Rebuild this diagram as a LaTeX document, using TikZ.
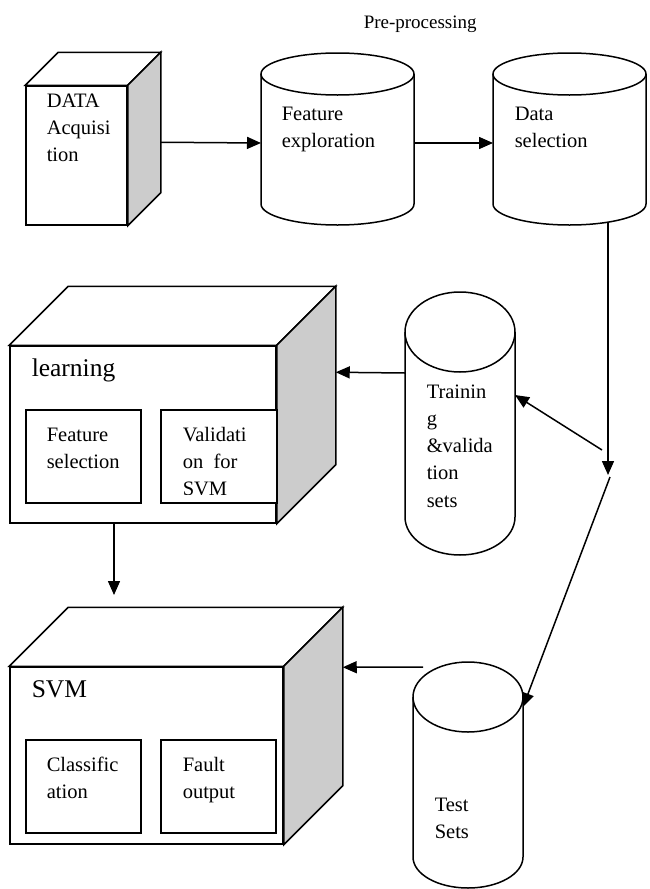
\documentclass[tikz,border=0pt]{standalone}
\usepackage{fontspec}
\setmainfont{Liberation Serif}
\usetikzlibrary{arrows.meta,calc}
\newcommand\mlines[1]{\begin{tabular}[t]{@{}l@{}}#1\end{tabular}}
\newcommand\drawcyl[6]{%
  \draw[fill=white] (#1-#2,-#3) -- (#1-#2,-#5)
    arc[start angle=180,end angle=360,x radius=#2,y radius=#6] -- (#1+#2,-#3);
  \draw[fill=white] (#1,-#3) ellipse [x radius=#2,y radius=#4];
}
\begin{document}
\begin{tikzpicture}[x=1pt,y=1pt,
  line width=1.5pt,
  face/.style={draw,fill=white,inner sep=0,line join=miter},
  sideface/.style={draw,fill=black!20,line join=miter},
  hidden/.style={inner sep=0,outer sep=0},
  lbl/.style={anchor=base west,inner sep=0,font=\fontsize{20.5}{27.3}\selectfont},
  biglbl/.style={anchor=base west,inner sep=0,font=\fontsize{25.5}{30}\selectfont},
  arr/.style={-{Triangle[length=14pt,width=12pt]}},
]
\useasboundingbox (0,0) rectangle (649,-889);

% ---------- DATA Acquisition cube ----------
\node[face,minimum width=101,minimum height=139] (da) at (76.5,-155.5) {};
\draw[face] (da.north west) -- ++(33,33) -- ($(da.north east)+(33,33)$) -- (da.north east) -- cycle;
\draw[sideface] (da.north east) -- ++(33,33) -- ($(da.south east)+(33,33)$) -- (da.south east) -- cycle;
\node[lbl] (datxt) at (46,-107) {\mlines{DATA\\Acquisi\\tion}};

% ---------- cylinders ----------
\drawcyl{337.5}{76.5}{74}{21}{204}{21}
\node[hidden,minimum width=153,minimum height=172] (fe) at (337.5,-139) {};
\node[lbl] (fetxt) at (281,-120) {\mlines{Feature\\exploration}};

\drawcyl{569.5}{76.5}{74}{21}{204}{21}
\node[hidden,minimum width=153,minimum height=172] (ds) at (569.5,-139) {};
\node[lbl] (dstxt) at (514,-120) {\mlines{Data\\selection}};

\node[anchor=base west,inner sep=0,font=\fontsize{19}{23}\selectfont] (pre) at (363,-28) {Pre-processing};

\drawcyl{460}{55}{332}{40}{517}{38}
\node[hidden,minimum width=110,minimum height=263] (tr) at (460,-423.5) {};
\node[lbl] (trtxt) at (426,-398) {\mlines{Trainin\\g\\\&valida\\tion\\sets}};

\drawcyl{468}{55}{697}{35}{857}{31}
\node[hidden,minimum width=110,minimum height=226] (ts) at (468,-775) {};
\node[lbl] (tstxt) at (434,-811) {\mlines{Test\\Sets}};

% ---------- learning cube ----------
\node[face,minimum width=266,minimum height=177] (lc) at (143,-434.5) {};
\draw[face] (lc.north west) -- ++(59,59) -- ($(lc.north east)+(59,59)$) -- (lc.north east) -- cycle;
\draw[sideface] (lc.north east) -- ++(59,59) -- ($(lc.south east)+(59,59)$) -- (lc.south east) -- cycle;
\node[biglbl] (lctxt) at (31,-376) {learning};
\node[face,minimum width=115,minimum height=93] (fs) at (83.5,-456.5) {};
\node[lbl] (fstxt) at (46,-441) {\mlines{Feature\\selection}};
\node[face,minimum width=116,minimum height=93] (vs) at (219,-456.5) {};
\begin{scope}
  \clip (161,-410) rectangle (277,-494);
  \node[lbl] (vstxt) at (182,-441) {\mlines{Validati\\on\ \ for\\SVM}};
\end{scope}

% ---------- SVM cube ----------
\node[face,minimum width=273,minimum height=177] (svm) at (146.5,-755.5) {};
\draw[face] (svm.north west) -- ++(59,59) -- ($(svm.north east)+(59,59)$) -- (svm.north east) -- cycle;
\draw[sideface] (svm.north east) -- ++(59,59) -- ($(svm.south east)+(59,59)$) -- (svm.south east) -- cycle;
\node[biglbl] (svmtxt) at (31,-697) {SVM};
\node[face,minimum width=115,minimum height=93] (cl) at (83.5,-786.5) {};
\node[lbl] (cltxt) at (46,-771) {\mlines{Classific\\ation}};
\node[face,minimum width=115,minimum height=93] (fo) at (218.5,-786.5) {};
\node[lbl] (fotxt) at (182,-771) {\mlines{Fault\\output}};

% ---------- connectors ----------
\coordinate (jn) at (608,-475);
\coordinate (j1) at (602,-450);
\coordinate (j2) at (610,-477);
\coordinate (svmin) at (114,-595);

\draw[arr] ($(da.north east)+(33,-57)$) -- (fe.west |- 0,-143);
\draw[arr] (fe.east |- 0,-143) -- (ds.west |- 0,-143);
\draw[arr] ($(ds.south)+(38.5,3)$) -- (jn);
\draw[arr] (j1) -- (tr.east |- 0,-395);
\draw[arr] (j2) -- ($(ts.north east)+(0,-45)$);
\draw[arr] (tr.west |- 0,-373) -- ($(lc.north east)+(59,-27)$);
\draw[arr] ($(ts.north west)+(10,-5)$) -- ($(svm.north east)+(59,-1)$);
\draw[arr] (lc.south -| svmin) -- (svmin);
\end{tikzpicture}
\end{document}
